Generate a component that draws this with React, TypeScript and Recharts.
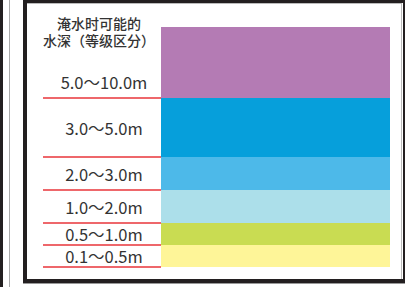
import React from 'react';
import { BarChart, Bar, XAxis, YAxis } from 'recharts';

// depth classes, bottom to top
const bandLabels = ['0.1～0.5m', '0.5～1.0m', '1.0～2.0m', '2.0～3.0m', '3.0～5.0m', '5.0～10.0m'];
// visual height of each band in the legend
const bandHeights = [22, 22, 33, 33, 59, 71];
const bandColors = ['#fef598', '#c9dc52', '#acdfea', '#4db9e9', '#069fdb', '#b47bb4'];
const titleLines = ['淹水时可能的', '水深（等级区分）'];

const row: any = { name: 'depth' };
bandHeights.forEach((h, i) => {
  row['b' + i] = h;
});
const data = [row];

const makeShape = (label: string, isTop: boolean) => (props: any) => {
  const { x, y, width, height, fill } = props;
  const bottom = y + height;
  const ty = isTop ? bottom - 16 : y + height / 2;
  return (
    <g>
      <rect x={x} y={y} width={width} height={height} fill={fill} />
      <line x1={x - 118} x2={x} y1={bottom} y2={bottom} stroke="#e8343a" strokeWidth={1.5} />
      <text
        x={x - 57}
        y={ty}
        textAnchor="middle"
        dominantBaseline="central"
        fontSize={16.5}
        fill="#333"
        fontFamily="'Noto Sans CJK JP', 'Noto Sans', sans-serif"
      >
        {label}
      </text>
    </g>
  );
};

const App = () => {
  return (
    <div style={{ position: 'fixed', left: 0, top: 0, width: 405, height: 287, background: '#fff', overflow: 'hidden' }}>
      {/* frame */}
      <div style={{ position: 'absolute', left: 0, top: 0, width: 3, height: 287, background: '#231f20' }} />
      <div style={{ position: 'absolute', left: 9, top: 0, width: 1, height: 287, background: '#aaa' }} />
      <div style={{ position: 'absolute', left: 23, top: 0, width: 382, height: 3, background: '#231f20' }} />
      <div style={{ position: 'absolute', left: 27, top: 3, width: 375, height: 1, background: '#bbb' }} />
      <div style={{ position: 'absolute', left: 23, top: 0, width: 4, height: 284, background: '#231f20' }} />
      <div style={{ position: 'absolute', left: 403, top: 0, width: 2, height: 284, background: '#231f20' }} />
      <div style={{ position: 'absolute', left: 401, top: 4, width: 1, height: 275, background: '#bbb' }} />
      <div style={{ position: 'absolute', left: 23, top: 279, width: 382, height: 4, background: '#231f20' }} />
      <div style={{ position: 'absolute', left: 23, top: 283, width: 382, height: 1, background: '#999' }} />

      {/* title */}
      {titleLines.map((t, i) => (
        <div
          key={t}
          style={{
            position: 'absolute',
            left: 40,
            top: 16 + i * 17,
            width: 118,
            height: 16,
            textAlign: 'center',
            fontFamily: "'Liberation Sans', 'Noto Sans CJK SC', sans-serif",
            fontSize: 14,
            fontWeight: 500,
            lineHeight: '16px',
            color: '#333',
          }}
        >
          {t}
        </div>
      ))}

      <div style={{ position: 'absolute', left: 27, top: 5 }}>
        <BarChart
          width={374}
          height={274}
          data={data}
          margin={{ top: 22, right: 11, bottom: 12, left: 134 }}
          barCategoryGap={0}
        >
          <XAxis dataKey="name" hide />
          <YAxis hide domain={[0, 240]} />
          {bandLabels.map((label, i) => (
            <Bar
              key={label}
              dataKey={'b' + i}
              stackId="s"
              fill={bandColors[i]}
              isAnimationActive={false}
              shape={makeShape(label, i === bandLabels.length - 1)}
            />
          ))}
        </BarChart>
      </div>
    </div>
  );
};

export default App;
